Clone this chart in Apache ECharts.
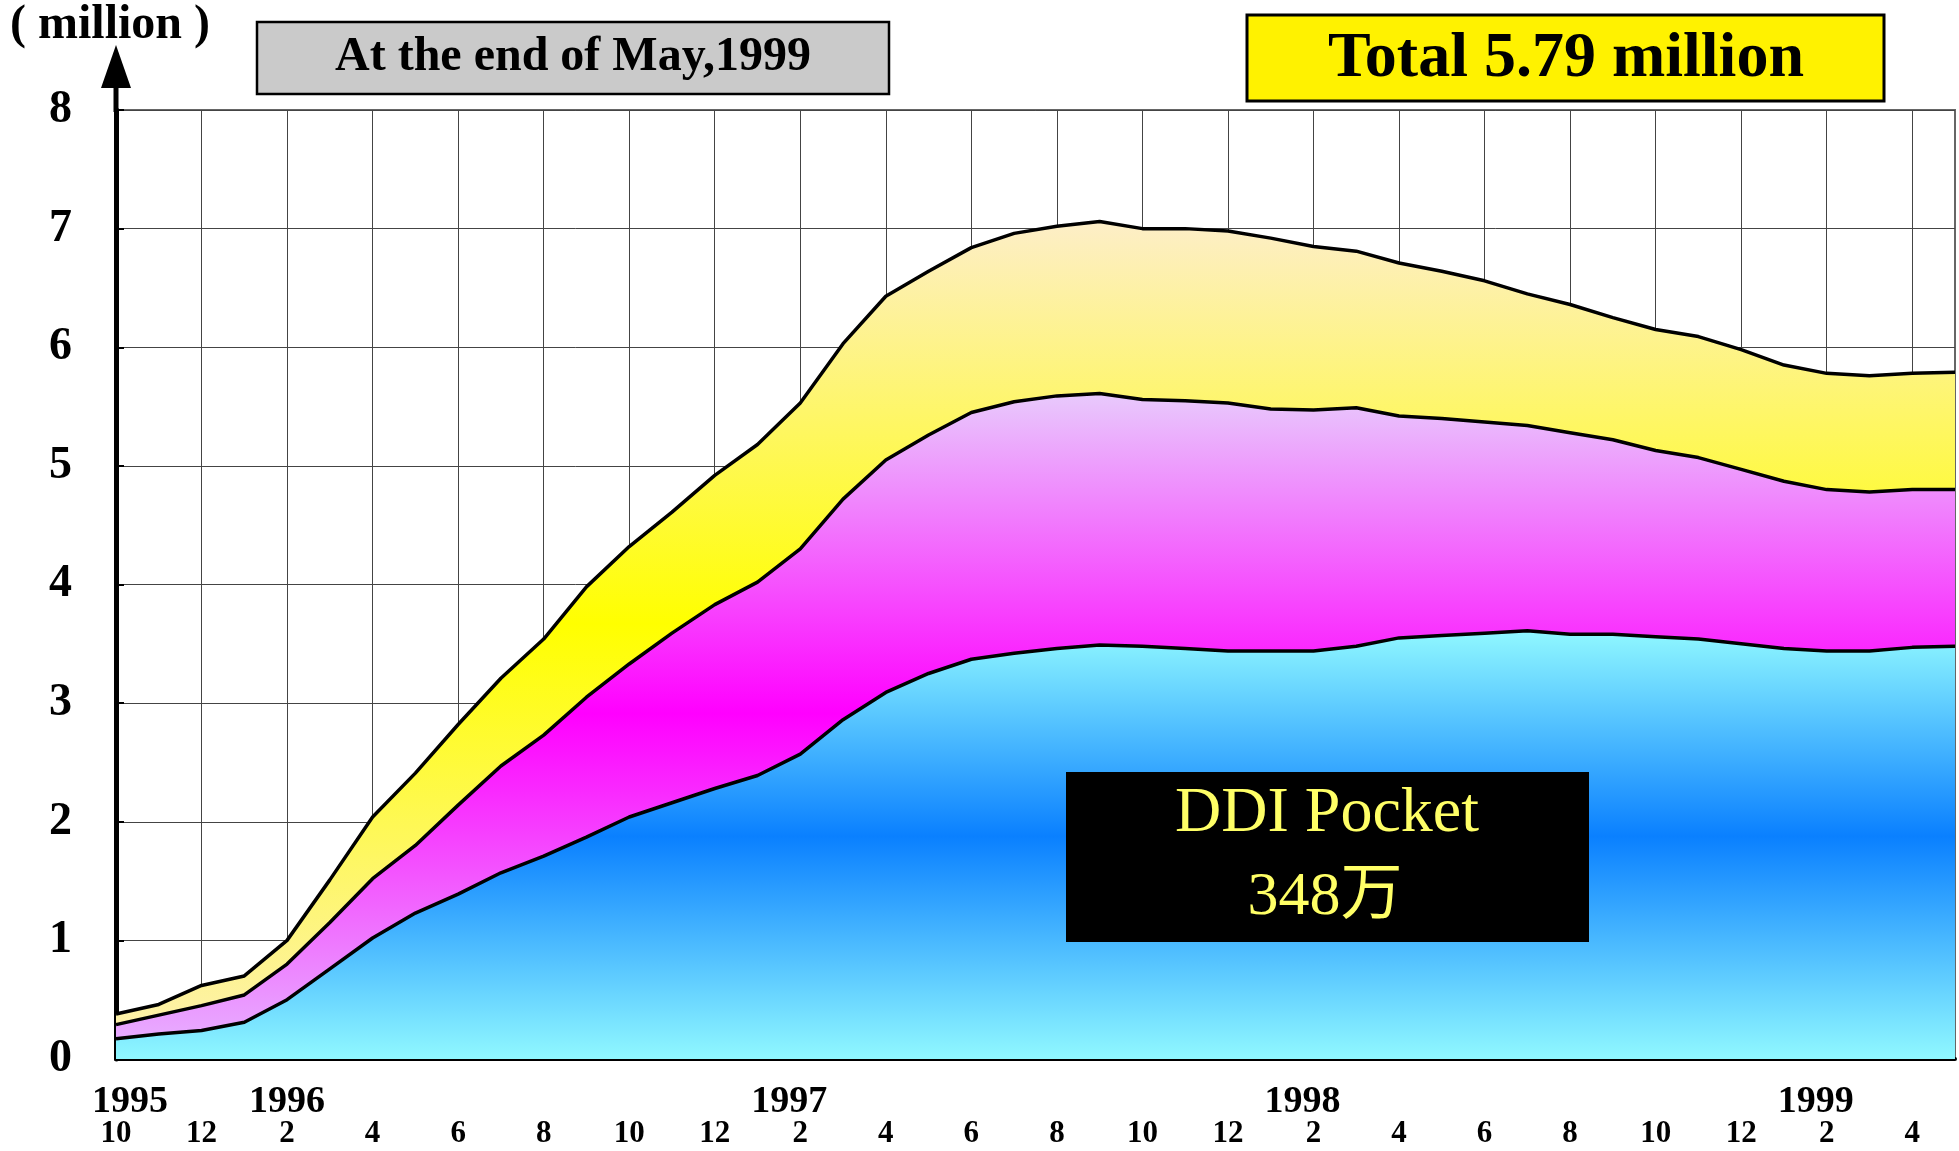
<!DOCTYPE html>
<html style="height: 100%">
<head>
    <meta charset="utf-8">
    <title>PHS subscribers</title>
    <script src="https://cdn.jsdelivr.net/npm/echarts@6/dist/echarts.min.js"></script>
</head>
<body style="height: 100%; margin: 0; background: #fff">
    <div id="main" style="width: 1959px; height: 1151px"></div>
    <script type="text/javascript">
        // months, 1995/10 .. 1999/5
        var categories = ['1995/10','1995/11','1995/12','1996/1','1996/2','1996/3','1996/4','1996/5','1996/6','1996/7','1996/8','1996/9','1996/10','1996/11','1996/12',
                          '1997/1','1997/2','1997/3','1997/4','1997/5','1997/6','1997/7','1997/8','1997/9','1997/10','1997/11','1997/12',
                          '1998/1','1998/2','1998/3','1998/4','1998/5','1998/6','1998/7','1998/8','1998/9','1998/10','1998/11','1998/12',
                          '1999/1','1999/2','1999/3','1999/4','1999/5'];

        // upper edge of each band, million
        var ddiPocket = [0.17,0.21,0.24,0.31,0.50,0.76,1.02,1.23,1.39,1.57,1.71,1.87,2.04,2.16,2.28,2.39,2.57,2.86,3.09,3.25,3.37,3.42,
                         3.46,3.49,3.48,3.46,3.44,3.44,3.44,3.48,3.55,3.57,3.59,3.61,3.58,3.58,3.56,3.54,3.50,3.46,3.44,3.44,3.47,3.48];
        var middleTop = [0.29,0.37,0.45,0.54,0.80,1.15,1.52,1.80,2.14,2.47,2.73,3.05,3.33,3.59,3.83,4.02,4.30,4.72,5.05,5.26,5.45,5.54,
                         5.59,5.61,5.56,5.55,5.53,5.48,5.47,5.49,5.42,5.40,5.37,5.34,5.28,5.22,5.13,5.07,4.97,4.87,4.80,4.78,4.80,4.80];
        var totalTop  = [0.38,0.46,0.62,0.70,1.00,1.51,2.04,2.41,2.82,3.21,3.54,3.98,4.32,4.61,4.92,5.18,5.53,6.03,6.43,6.64,6.84,6.96,
                         7.02,7.06,7.00,7.00,6.98,6.92,6.85,6.81,6.71,6.64,6.56,6.45,6.36,6.25,6.15,6.09,5.98,5.85,5.78,5.76,5.78,5.79];

        var yTicks = [0, 1, 2, 3, 4, 5, 6, 7, 8];

        var serif = "'Liberation Serif', 'Times New Roman', serif";

        var myChart = echarts.init(document.getElementById('main'));

        function grad(c0, c1, c2) {
            return new echarts.graphic.LinearGradient(0, 0, 0, 1, [
                { offset: 0, color: c0 },
                { offset: 0.48, color: c1 },
                { offset: 1, color: c2 }
            ]);
        }

        function band(name, data, fill) {
            return {
                name: name,
                type: 'line',
                data: data,
                symbol: 'none',
                lineStyle: { color: '#000', width: 3.5 },
                areaStyle: { color: fill, opacity: 1 }
            };
        }

        var yearStyle = { fontFamily: serif, fontWeight: 'bold', fontSize: 38, lineHeight: 31, color: '#000' };

        var option = {
            animation: false,
            backgroundColor: '#fff',
            grid: {
                left: 116, right: 4, top: 110, bottom: 92,
                show: true, borderColor: '#666', borderWidth: 2
            },
            xAxis: {
                type: 'category',
                data: categories,
                boundaryGap: false,
                axisLine: { lineStyle: { color: '#000', width: 4 } },
                axisTick: { inside: true, interval: 1, length: 12, lineStyle: { color: '#000', width: 1 } },
                splitLine: { show: true, interval: 1, lineStyle: { color: '#444', width: 1 } },
                axisLabel: {
                    interval: 1,
                    margin: 28,
                    formatter: function (value, index) {
                        var p = value.split('/');
                        if (index === 0) return '{y0|' + p[0] + '}\n{m|' + p[1] + '}';
                        if (p[1] === '2') {
                            return (p[0] === '1996' ? '{y|' : '{yl|') + p[0] + '}\n{m|' + p[1] + '}';
                        }
                        return '{y| }\n{m|' + p[1] + '}';
                    },
                    rich: {
                        y: yearStyle,
                        y0: Object.assign({}, yearStyle, { padding: [0, 0, 0, 28] }),
                        yl: Object.assign({}, yearStyle, { padding: [0, 22, 0, 0] }),
                        m: { fontFamily: serif, fontWeight: 'bold', fontSize: 31, lineHeight: 31, color: '#000' }
                    }
                }
            },
            yAxis: {
                type: 'value',
                min: yTicks[0],
                max: yTicks[yTicks.length - 1],
                interval: 1,
                axisLine: { show: true, lineStyle: { color: '#000', width: 5 } },
                axisTick: { show: true, inside: true, length: 8, lineStyle: { color: '#000', width: 2 } },
                splitLine: { lineStyle: { color: '#444', width: 1 } },
                axisLabel: {
                    margin: 44,
                    fontFamily: serif, fontWeight: 'bold', fontSize: 46, color: '#000'
                }
            },
            series: [
                band('Total', totalTop, grad('#fdeec8', '#ffff00', '#fdf0b8')),
                band('Middle', middleTop, grad('#e8cafc', '#ff00ff', '#e6b6ff')),
                band('DDI Pocket', ddiPocket, grad('#90f8ff', '#0a80ff', '#90f8ff'))
            ],
            graphic: [
                // y axis extension and arrow head
                { type: 'line', shape: { x1: 116, y1: 112, x2: 116, y2: 80 }, style: { stroke: '#000', lineWidth: 5 }, z: 100 },
                { type: 'polygon', shape: { points: [[116, 45], [101, 88], [131, 88]] }, style: { fill: '#000' }, z: 100 },
                { type: 'text', left: 10, top: 2, style: { text: '( million )', font: 'bold 48px ' + serif, fill: '#000' } },
                // date box
                { type: 'rect', shape: { x: 257, y: 22, width: 632, height: 72 }, style: { fill: '#cacaca', stroke: '#000', lineWidth: 2.5 } },
                { type: 'text', x: 573, y: 58, style: { text: 'At the end of May,1999', font: 'bold 48px ' + serif, fill: '#000', align: 'center', verticalAlign: 'middle' } },
                // total box
                { type: 'rect', shape: { x: 1247, y: 15, width: 637, height: 86 }, style: { fill: '#fff200', stroke: '#000', lineWidth: 3 } },
                { type: 'text', x: 1566, y: 59, style: { text: 'Total 5.79 million', font: 'bold 64px ' + serif, fill: '#000', align: 'center', verticalAlign: 'middle' } },
                // DDI Pocket label
                { type: 'rect', shape: { x: 1066, y: 772, width: 523, height: 170 }, style: { fill: '#000' }, z: 100 },
                { type: 'text', x: 1327, y: 814, z: 101, style: { text: 'DDI Pocket', font: '64px ' + serif, fill: '#ffff66', align: 'center', verticalAlign: 'middle' } },
                { type: 'text', x: 1325, y: 898, z: 101, style: { text: '348万', font: "62px 'Liberation Serif', 'Noto Sans CJK JP', serif", fill: '#ffff66', align: 'center', verticalAlign: 'middle' } }
            ]
        };

        myChart.setOption(option);
    </script>
</body>
</html>
